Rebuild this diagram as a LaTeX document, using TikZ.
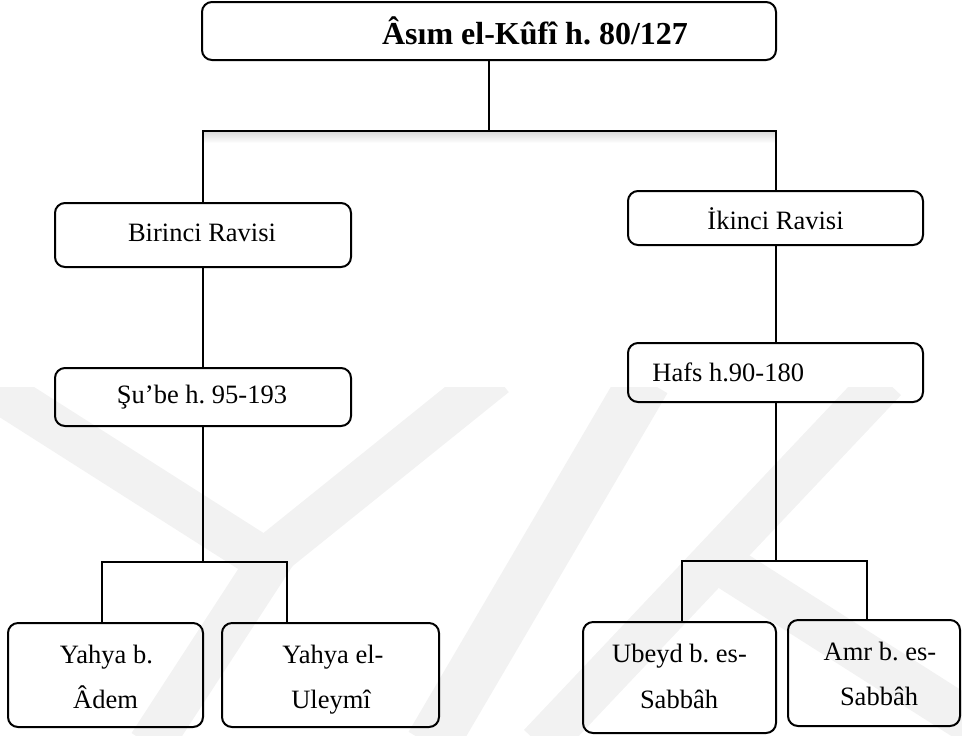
\documentclass[tikz,border=0pt]{standalone}
\usepackage{fontspec}
\setmainfont{Liberation Serif}
\frenchspacing
\begin{document}
\begin{tikzpicture}[x=0.5pt,y=-0.5pt,
  box/.style={draw=black, line width=1pt, rounded corners=5pt, inner sep=0pt},
  lbl/.style={inner sep=0pt, anchor=base, font=\fontsize{13.25}{16}\selectfont},
  link/.style={line width=1pt},
  logo/.style={draw=black!5, line cap=butt, line join=miter}]
\useasboundingbox (0,0) rectangle (962,735);

% faint background logo
\begin{scope}
  \clip (0,387) rectangle (962,735);
  \draw[logo, line width=22pt] (-10,385) -- (265,560) -- (495,375);
  \draw[logo, line width=22pt] (280,545) -- (150,745);
  \draw[logo, line width=26pt] (431,745) -- (645,380);
  \draw[logo, line width=22pt] (540,745) -- (885,380);
  \draw[logo, line width=22pt] (700,550) -- (975,725);
\end{scope}

% boxes
\node[box, minimum width=287pt, minimum height=29pt] (asim)    at (489,31) {};
\node[box, minimum width=148pt, minimum height=32pt] (birinci) at (203,235) {};
\node[box, minimum width=147.5pt, minimum height=27pt] (ikinci) at (775.5,218) {};
\node[box, minimum width=148pt, minimum height=29pt] (sube)    at (203,397) {};
\node[box, minimum width=147.5pt, minimum height=29.5pt] (hafs) at (775.5,372.5) {};
\node[box, minimum width=97.5pt, minimum height=52pt] (yadem)  at (105.5,675) {};
\node[box, minimum width=108.5pt, minimum height=52pt] (yuley) at (330.5,675) {};
\node[box, minimum width=96.5pt, minimum height=55.5pt] (ubeyd) at (679.5,677.5) {};
\node[box, minimum width=86pt, minimum height=53pt] (amr)      at (874,673) {};

% labels
\node[lbl, font=\fontsize{16}{19}\selectfont\bfseries] (asimt) at (535,44) {Âsım el-Kûfî h. 80/127};
\node[lbl] (birincit) at (202,241) {Birinci Ravisi};
\node[lbl] (ikincit) at (775.5,229) {İkinci Ravisi};
\node[lbl] (subet) at (202,403) {Şu’be h. 95-193};
\node[lbl, anchor=base west] (hafst) at (652,381) {Hafs h.90-180};
\node[lbl] (yadema) at (106.5,663) {Yahya b.};
\node[lbl] (yademb) at (105.5,708) {Âdem};
\node[lbl] (yuleya) at (333,663) {Yahya el-};
\node[lbl] (yuleyb) at (331,708) {Uleymî};
\node[lbl] (ubeyda) at (679.5,662) {Ubeyd b. es-};
\node[lbl] (ubeydb) at (679,708) {Sabbâh};
\node[lbl] (amra) at (880,660) {Amr b. es-};
\node[lbl] (amrb) at (879,705) {Sabbâh};

% bus coordinates
\coordinate (topbus) at (489,131);
\coordinate (lbus) at (203,562);
\coordinate (lbusl) at (102,562);
\coordinate (lbusr) at (287,562);
\coordinate (rbus) at (775.5,561);
\coordinate (rbusl) at (682,561);
\coordinate (rbusr) at (867,561);

% soft shadow under the top bus
\shade[top color=black!14, bottom color=white] (202,132) rectangle (776,143);

% connectors
\draw[link] (asim.south) -- (topbus);
\draw[link] (birinci.north) |- (topbus) -| (ikinci.north);
\draw[link] (birinci.south) -- (sube.north);
\draw[link] (ikinci.south) -- (hafs.north);
\draw[link] (sube.south) -- (lbus);
\draw[link] (lbusl |- yadem.north) -- (lbusl) -- (lbusr) -- (lbusr |- yuley.north);
\draw[link] (hafs.south) -- (rbus);
\draw[link] (rbusl |- ubeyd.north) -- (rbusl) -- (rbusr) -- (rbusr |- amr.north);
\end{tikzpicture}
\end{document}
